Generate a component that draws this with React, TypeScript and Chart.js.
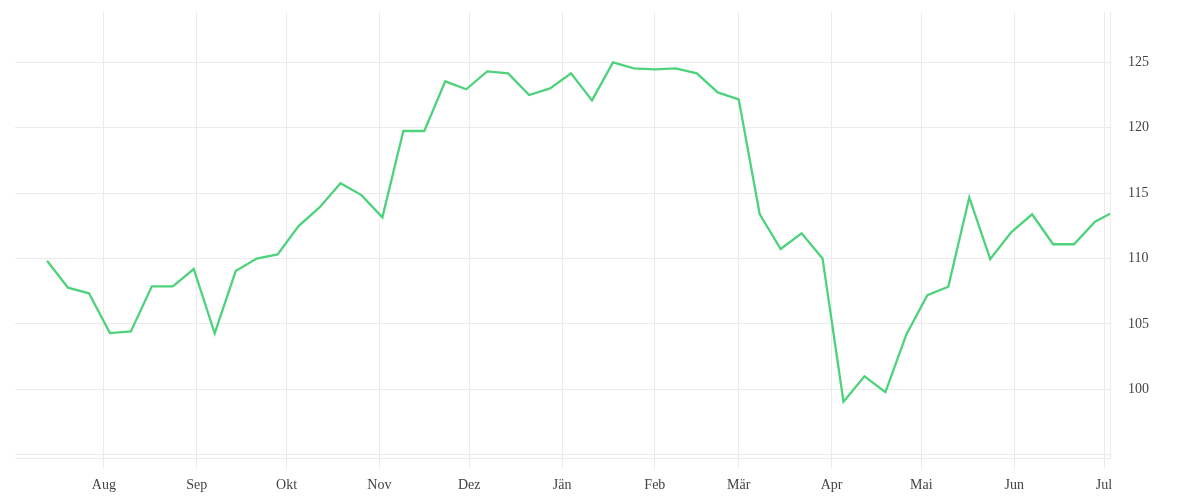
import React, { useEffect, useRef } from "react";
import { Chart, registerables } from "chart.js";

Chart.register(...registerables);

// Weekly observation dates
const dates: string[] = [
  "2022-07-13", "2022-07-20", "2022-07-27", "2022-08-03", "2022-08-10", "2022-08-17",
  "2022-08-24", "2022-08-31", "2022-09-07", "2022-09-14", "2022-09-21", "2022-09-28",
  "2022-10-05", "2022-10-12", "2022-10-19", "2022-10-26", "2022-11-02", "2022-11-09",
  "2022-11-16", "2022-11-23", "2022-11-30", "2022-12-07", "2022-12-14", "2022-12-21",
  "2022-12-28", "2023-01-04", "2023-01-11", "2023-01-18", "2023-01-25", "2023-02-01",
  "2023-02-08", "2023-02-15", "2023-02-22", "2023-03-01", "2023-03-08", "2023-03-15",
  "2023-03-22", "2023-03-29", "2023-04-05", "2023-04-12", "2023-04-19", "2023-04-26",
  "2023-05-03", "2023-05-10", "2023-05-17", "2023-05-24", "2023-05-31", "2023-06-07",
  "2023-06-14", "2023-06-21", "2023-06-28", "2023-07-05",
];

// Series values
const values: number[] = [
  109.83, 107.77, 107.34, 104.3, 104.43, 107.87,
  107.87, 109.2, 104.28, 109.04, 110.0, 110.32,
  112.48, 113.91, 115.75, 114.85, 113.15, 119.75,
  119.75, 123.55, 122.94, 124.31, 124.16, 122.5,
  123.01, 124.16, 122.09, 125.0, 124.54, 124.46,
  124.54, 124.16, 122.7, 122.17, 113.4, 110.73,
  111.93, 110.01, 99.05, 101.0, 99.79, 104.2,
  107.19, 107.84, 114.68, 109.96, 112.0, 113.38,
  111.09, 111.09, 112.81, 113.67,
];

// Month ticks
const monthDates: string[] = [
  "2022-08-01", "2022-09-01", "2022-10-01", "2022-11-01", "2022-12-01", "2023-01-01",
  "2023-02-01", "2023-03-01", "2023-04-01", "2023-05-01", "2023-06-01", "2023-07-01",
];
const monthLabels: string[] = [
  "Aug", "Sep", "Okt", "Nov", "Dez", "Jän", "Feb", "Mär", "Apr", "Mai", "Jun", "Jul",
];

// Y ticks (95 has a grid line but no label)
const yTicks: number[] = [95, 100, 105, 110, 115, 120, 125];
const yTickLabels: string[] = ["", "100", "105", "110", "115", "120", "125"];

const ORIGIN = Date.UTC(2022, 7, 1);
const toDay = (s: string) => {
  const [y, m, d] = s.split("-").map(Number);
  return (Date.UTC(y, m - 1, d) - ORIGIN) / 86400000;
};

const GRID = "#ebebeb";

export default function App() {
  const ref = useRef<HTMLCanvasElement | null>(null);

  useEffect(() => {
    if (!ref.current) return;
    const monthDays = monthDates.map(toDay);
    const chart = new Chart(ref.current, {
      type: "line",
      data: {
        datasets: [
          {
            data: dates.map((d, i) => ({ x: toDay(d), y: values[i] })),
            borderColor: "rgb(78, 210, 124)",
            borderWidth: 2.3,
            pointRadius: 0,
            pointHoverRadius: 0,
            tension: 0,
            fill: false,
          },
        ],
      },
      options: {
        animation: false,
        responsive: true,
        maintainAspectRatio: false,
        layout: { padding: { top: 4, left: 7, right: 0, bottom: 0 } },
        plugins: { legend: { display: false }, tooltip: { enabled: false } },
        font: { family: "'Liberation Serif', serif", size: 14 },
        scales: {
          x: {
            type: "linear",
            min: -29.7,
            max: 336,
            afterBuildTicks: (scale: any) => {
              scale.ticks = monthDays.map((v) => ({ value: v }));
            },
            afterFit: (scale: any) => {
              scale.height = 33.5;
              scale.paddingLeft = 0;
              scale.paddingRight = 0;
              scale.paddingTop = 0;
              scale.paddingBottom = 0;
            },
            grid: {
              color: GRID,
              drawTicks: true,
              tickLength: 10,
              tickColor: GRID,
              lineWidth: 1,
            },
            border: { display: true, color: GRID },
            ticks: {
              autoSkip: false,
              maxRotation: 0,
              padding: 8,
              color: "#444",
              font: { family: "'Liberation Serif', serif", size: 14 },
              callback: (_v: any, i: number) => monthLabels[i],
            },
          },
          y: {
            type: "linear",
            position: "right",
            min: 94.71,
            max: 128.85,
            afterBuildTicks: (scale: any) => {
              scale.ticks = yTicks.map((v) => ({ value: v }));
            },
            afterFit: (scale: any) => {
              scale.width = 82;
              scale.paddingTop = 0;
              scale.paddingBottom = 0;
              scale.paddingLeft = 0;
              scale.paddingRight = 0;
            },
            grid: { color: GRID, drawTicks: false, lineWidth: 1 },
            border: { display: true, color: GRID },
            ticks: {
              padding: 18,
              color: "#444",
              font: { family: "'Liberation Serif', serif", size: 14 },
              callback: (_v: any, i: number) => yTickLabels[i],
            },
          },
        },
      } as any,
    });
    return () => chart.destroy();
  }, []);

  return (
    <div style={{ position: "relative", width: "100%", height: "484px" }}>
      <canvas ref={ref} />
    </div>
  );
}
